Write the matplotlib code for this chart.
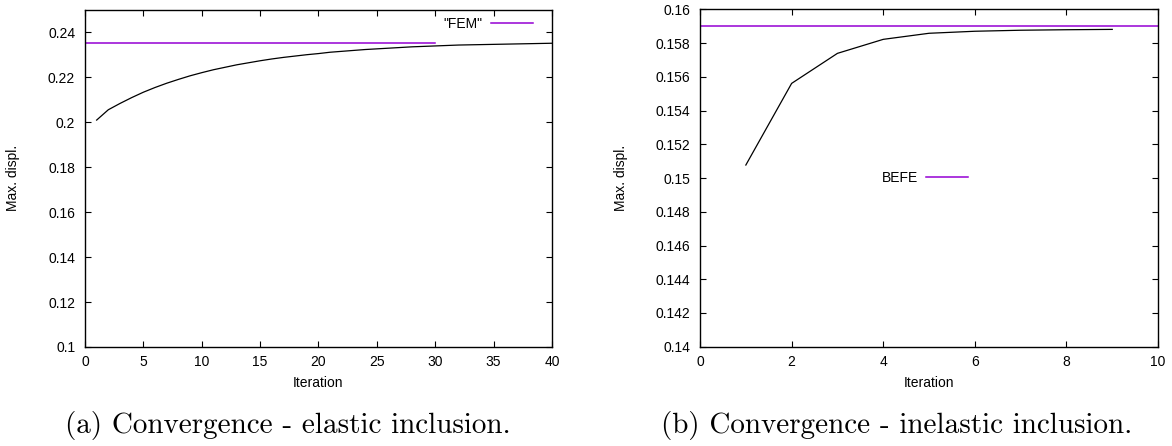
import matplotlib
matplotlib.use('Agg')
import matplotlib.pyplot as plt
from matplotlib.ticker import MultipleLocator, FuncFormatter

plt.rcParams['font.family'] = ['Liberation Sans', 'DejaVu Sans']
plt.rcParams['font.size'] = 10

# (a) elastic inclusion
iter_a = list(range(1, 41))
displ_a = [0.2010, 0.2056, 0.2084, 0.2110, 0.2134, 0.2155, 0.2174, 0.2191,
           0.2207, 0.2221, 0.2234, 0.2245, 0.2256, 0.2265, 0.2274, 0.2282,
           0.2289, 0.2295, 0.2301, 0.2306, 0.2312, 0.2316, 0.2320, 0.2324,
           0.2327, 0.2330, 0.2333, 0.2336, 0.2338, 0.2340, 0.2342, 0.2344,
           0.2345, 0.2346, 0.2347, 0.2348, 0.2349, 0.2350, 0.2351, 0.2352]
fem_x = [0, 30]
fem_y = [0.2353, 0.2353]

# (b) inelastic inclusion
iter_b = [1, 2, 3, 4, 5, 6, 7, 8, 9]
displ_b = [0.15077, 0.15561, 0.15739, 0.15822, 0.15858, 0.15870,
           0.15876, 0.15879, 0.15881]
befe_x = [0, 10]
befe_y = [0.15903, 0.15903]

purple = '#9400d3'
fmt = FuncFormatter(lambda v, p: '%g' % round(v, 6))

fig = plt.figure(figsize=(11.72, 4.46), dpi=100)
ax1 = fig.add_axes([0.0725, 0.222, 0.3985, 0.7556])
ax2 = fig.add_axes([0.5973, 0.2226, 0.3908, 0.7565])


def style(ax):
    for s in ax.spines.values():
        s.set_linewidth(1.0)
    ax.tick_params(direction='in', length=4.5, width=0.8, top=True,
                   right=True, labelsize=10)
    ax.tick_params(axis='y', pad=7)
    ax.tick_params(axis='x', pad=6)
    ax.yaxis.set_major_formatter(fmt)
    ax.xaxis.set_major_formatter(fmt)


ax1.plot(fem_x, fem_y, color=purple, lw=1.1, label='"FEM"')
ax1.plot(iter_a, displ_a, color='black', lw=0.9)
ax1.set_xlim(0, 40)
ax1.set_ylim(0.1, 0.25)
ax1.xaxis.set_major_locator(MultipleLocator(5))
ax1.yaxis.set_major_locator(MultipleLocator(0.02))
style(ax1)
ax1.legend(loc='center right', bbox_to_anchor=(0.959, 0.958),
           markerfirst=False, frameon=False, borderpad=0, borderaxespad=0,
           handlelength=3.0, handletextpad=0.6, fontsize=10)

ax2.plot(befe_x, befe_y, color=purple, lw=1.1, label='BEFE')
ax2.plot(iter_b, displ_b, color='black', lw=0.9)
ax2.set_xlim(0, 10)
ax2.set_ylim(0.14, 0.16)
ax2.xaxis.set_major_locator(MultipleLocator(2))
ax2.yaxis.set_major_locator(MultipleLocator(0.002))
style(ax2)
ax2.legend(loc='center right', bbox_to_anchor=(0.585, 0.501),
           markerfirst=False, frameon=False, borderpad=0, borderaxespad=0,
           handlelength=3.0, handletextpad=0.6, fontsize=10)

# axis labels
fig.text(13 / 1172, 1 - 178 / 446, 'Max. displ.', rotation=90,
         ha='center', va='center', fontsize=10)
fig.text(621 / 1172, 1 - 178 / 446, 'Max. displ.', rotation=90,
         ha='center', va='center', fontsize=10)
fig.text(318.5 / 1172, 1 - 383 / 446, 'Iteration', ha='center',
         va='center', fontsize=10)
fig.text(929 / 1172, 1 - 383 / 446, 'Iteration', ha='center',
         va='center', fontsize=10)

# captions
fig.text(288 / 1172, 1 - 425 / 446, '(a) Convergence - elastic inclusion.',
         ha='center', va='center', fontsize=21, family='cmr10')
fig.text(897 / 1172, 1 - 425 / 446, '(b) Convergence - inelastic inclusion.',
         ha='center', va='center', fontsize=21, family='cmr10')

fig.savefig('out.png', dpi=100)
